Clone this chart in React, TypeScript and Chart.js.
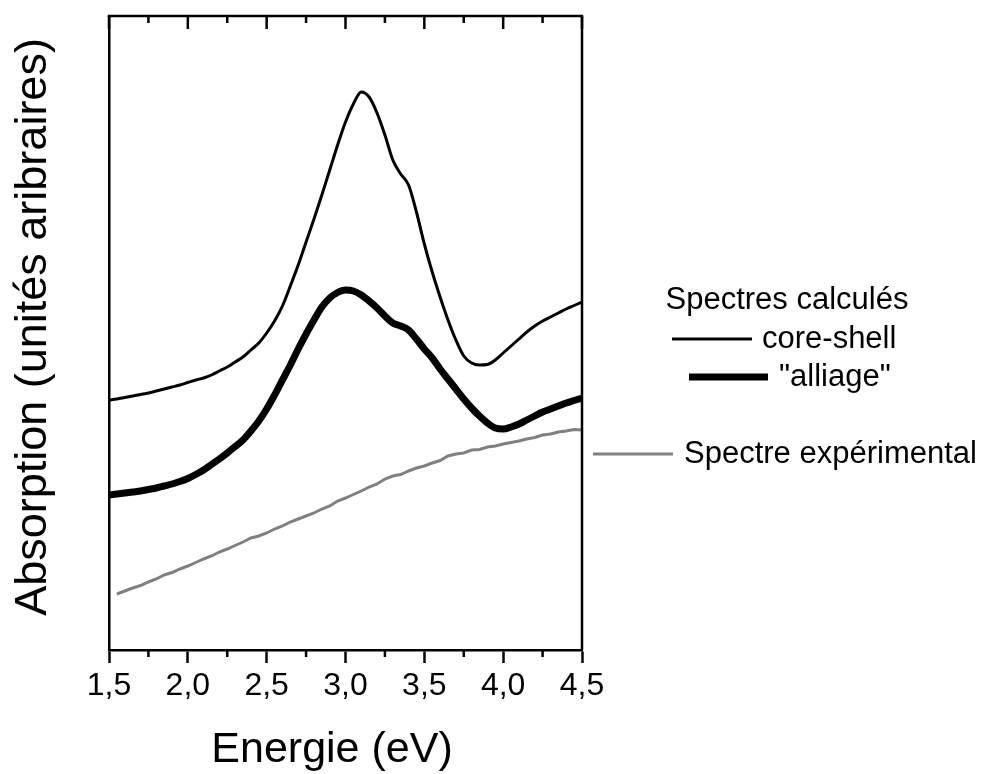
import React, { useEffect, useRef } from 'react';
import { Chart, registerables } from 'chart.js';

Chart.register(...registerables);

const FONT = "'Liberation Sans', Arial, Helvetica, sans-serif";

// Energy axis (eV) for the calculated spectra
const energyCalc = [
  1.5, 1.55, 1.6, 1.65, 1.7, 1.75, 1.8, 1.85, 1.9, 1.95,
  2.0, 2.05, 2.1, 2.15, 2.2, 2.25, 2.3, 2.35, 2.4, 2.45,
  2.5, 2.55, 2.6, 2.65, 2.7, 2.75, 2.8, 2.85, 2.9, 2.95,
  3.0, 3.05, 3.1, 3.15, 3.2, 3.25, 3.3, 3.35, 3.4, 3.45,
  3.5, 3.55, 3.6, 3.65, 3.7, 3.75, 3.8, 3.85, 3.9, 3.95,
  4.0, 4.05, 4.1, 4.15, 4.2, 4.25, 4.3, 4.35, 4.4, 4.45, 4.5,
];

// Calculated spectrum: core-shell (arbitrary units)
const coreShell = [
  260, 261, 262.5, 264, 265.5, 267, 269, 271, 273, 275,
  277.5, 280, 282, 285, 289, 293, 298, 303, 310, 317,
  327, 339, 354, 374, 395, 418, 441, 465, 490, 515,
  538, 556, 568, 563, 547, 525, 500, 486, 475, 448,
  416, 388, 363, 340, 320, 304, 297, 295, 295.5, 300,
  307, 314, 321, 328, 334, 339, 343, 347, 351, 354.5, 358,
];

// Calculated spectrum: "alliage" (arbitrary units)
const alliage = [
  165, 166, 167, 168, 169, 170.5, 172, 174, 176, 178.5,
  181.5, 185.5, 190, 195.5, 201, 207, 213.5, 220, 229, 239,
  251, 265, 280, 295, 311, 326, 340, 353, 362, 367.5,
  370, 369, 365, 359, 352, 344, 337, 334, 330, 321,
  311, 302, 291, 281, 271, 261, 252, 244, 237, 232,
  231, 233, 236, 240, 244, 248, 251, 254, 257, 259.5, 262,
];

// Experimental spectrum
const energyExp = [
  1.55, 1.6, 1.65, 1.7, 1.75, 1.8, 1.85, 1.9, 1.95,
  2.0, 2.05, 2.1, 2.15, 2.2, 2.25, 2.3, 2.35, 2.4, 2.45,
  2.5, 2.55, 2.6, 2.65, 2.7, 2.75, 2.8, 2.85, 2.9, 2.95,
  3.0, 3.05, 3.1, 3.15, 3.2, 3.25, 3.3, 3.35, 3.4, 3.45,
  3.5, 3.55, 3.6, 3.65, 3.7, 3.75, 3.8, 3.85, 3.9, 3.95,
  4.0, 4.05, 4.1, 4.15, 4.2, 4.25, 4.3, 4.35, 4.4, 4.45, 4.5,
];
const experimental = [
  66, 69, 72, 74.5, 78, 81, 85, 87.5, 91,
  94, 97.5, 101, 104, 108, 111, 114.5, 118, 122, 124,
  127, 131, 134, 138, 141, 144, 147, 151, 154, 159,
  162, 165.5, 169, 173, 176, 181, 184, 185.5, 189, 192,
  194, 197, 199.5, 204, 206, 207, 210, 210.5, 213, 214,
  216, 217.5, 219, 221, 222.5, 225, 226, 228, 229, 230.5, 230,
];

const majorTicks = [1.5, 2.0, 2.5, 3.0, 3.5, 4.0, 4.5];
const minorTicks = [1.75, 2.25, 2.75, 3.25, 3.75, 4.25];

const seriesLabels = ['core-shell', '"alliage"', 'Spectre expérimental'];
const legendTitle = 'Spectres calculés';
const xTitle = 'Energie (eV)';
const yTitle = 'Absorption (unités aribraires)';

const frameTicksPlugin = {
  id: 'frameTicks',
  afterDraw(chart: any) {
    const { ctx, chartArea: a, scales } = chart;
    const x = scales.x;
    ctx.save();
    ctx.strokeStyle = '#000';
    ctx.lineWidth = 2.5;
    ctx.beginPath();
    ctx.moveTo(a.left - 1.25, a.top);
    ctx.lineTo(a.right, a.top);
    ctx.lineTo(a.right, a.bottom);
    ctx.stroke();
    ctx.beginPath();
    for (const v of majorTicks) {
      const px = x.getPixelForValue(v);
      ctx.moveTo(px, a.top);
      ctx.lineTo(px, a.top + 13);
    }
    for (const v of minorTicks) {
      const px = x.getPixelForValue(v);
      ctx.moveTo(px, a.top);
      ctx.lineTo(px, a.top + 7);
      ctx.moveTo(px, a.bottom);
      ctx.lineTo(px, a.bottom + 7);
    }
    ctx.stroke();

    // axis titles
    ctx.fillStyle = '#000';
    ctx.textAlign = 'center';
    ctx.textBaseline = 'middle';
    ctx.font = `43px ${FONT}`;
    ctx.fillText(xTitle, 332, 750);
    ctx.translate(34, 327);
    ctx.rotate(-Math.PI / 2);
    ctx.font = `45px ${FONT}`;
    ctx.fillText(yTitle, 0, 0);
    ctx.restore();
  },
};

const legendPlugin = {
  id: 'customLegend',
  afterDraw(chart: any) {
    const { ctx } = chart;
    const ds = chart.data.datasets;
    const items = [
      { i: 0, x1: 672, x2: 752, y: 339, tx: 762 },
      { i: 1, x1: 689, x2: 768, y: 377, tx: 779 },
      { i: 2, x1: 593, x2: 673, y: 454, tx: 684 },
    ];
    ctx.save();
    ctx.fillStyle = '#000';
    ctx.font = `31px ${FONT}`;
    ctx.textBaseline = 'middle';
    ctx.textAlign = 'center';
    ctx.fillText(legendTitle, 787, 300);
    ctx.textAlign = 'left';
    for (const it of items) {
      const d = ds[it.i];
      ctx.strokeStyle = d.borderColor;
      ctx.lineWidth = d.borderWidth;
      ctx.beginPath();
      ctx.moveTo(it.x1, it.y);
      ctx.lineTo(it.x2, it.y);
      ctx.stroke();
      ctx.fillText(d.label, it.tx, it.y);
    }
    ctx.restore();
  },
};

export default function App() {
  const canvasRef = useRef<HTMLCanvasElement | null>(null);

  useEffect(() => {
    const canvas = canvasRef.current;
    if (!canvas) return;
    const chart = new Chart(canvas, {
      type: 'line',
      data: {
        datasets: [
          {
            label: seriesLabels[0],
            data: energyCalc.map((e, i) => ({ x: e, y: coreShell[i] })),
            borderColor: '#000000',
            borderWidth: 3,
            pointRadius: 0,
            cubicInterpolationMode: 'monotone',
            fill: false,
          },
          {
            label: seriesLabels[1],
            data: energyCalc.map((e, i) => ({ x: e, y: alliage[i] })),
            borderColor: '#000000',
            borderWidth: 7,
            pointRadius: 0,
            cubicInterpolationMode: 'monotone',
            fill: false,
          },
          {
            label: seriesLabels[2],
            data: energyExp.map((e, i) => ({ x: e, y: experimental[i] })),
            borderColor: '#808080',
            borderWidth: 3,
            pointRadius: 0,
            tension: 0,
            fill: false,
          },
        ],
      },
      options: {
        responsive: false,
        animation: false,
        devicePixelRatio: 1,
        layout: { padding: { left: 0, right: 404, top: 16, bottom: 0 } },
        plugins: {
          legend: { display: false },
          tooltip: { enabled: false },
        },
        scales: {
          x: {
            type: 'linear',
            min: 1.5,
            max: 4.5,
            ticks: {
              stepSize: 0.5,
              color: '#000',
              font: { size: 32, family: FONT },
              padding: 4,
              maxRotation: 0,
              autoSkip: false,
              callback: (v: any) => Number(v).toFixed(1).replace('.', ','),
            },
            grid: {
              display: true,
              drawOnChartArea: false,
              drawTicks: true,
              tickLength: 13,
              tickWidth: 2.5,
              tickColor: '#000',
            },
            border: { display: true, color: '#000', width: 2.5 },
            title: { display: false },
            afterFit: (s: any) => {
              s.height = 124;
            },
          },
          y: {
            type: 'linear',
            min: 10,
            max: 644,
            ticks: { display: false },
            grid: { display: false },
            border: { display: true, color: '#000', width: 2.5 },
            title: { display: false },
            afterFit: (s: any) => {
              s.width = 109;
            },
          },
        },
      } as any,
      plugins: [frameTicksPlugin, legendPlugin],
    });
    return () => chart.destroy();
  }, []);

  return (
    <div style={{ position: 'absolute', left: 0, top: 0, width: 986, height: 774, background: '#fff' }}>
      <canvas ref={canvasRef} width={986} height={774} style={{ display: 'block' }} />
    </div>
  );
}
